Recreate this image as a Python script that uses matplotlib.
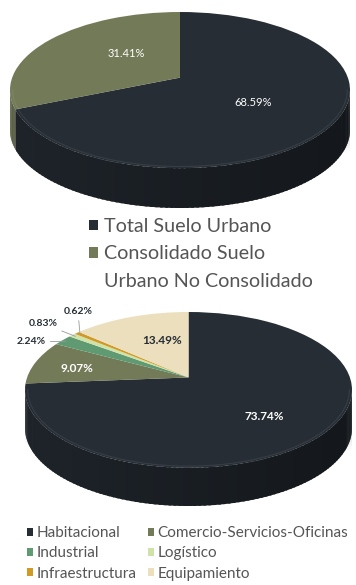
import numpy as np
import matplotlib
matplotlib.use("Agg")
import matplotlib.pyplot as plt
import matplotlib.transforms as mtransforms
from matplotlib.patches import Patch, Ellipse
from matplotlib.colors import to_rgb

# Datos
etiquetas1 = ["Total Suelo Urbano", "Consolidado Suelo\nUrbano No Consolidado"]
valores1 = [68.59, 31.41]
colores1 = ["#262d35", "#737a57"]

etiquetas2 = ["Habitacional", "Comercio-Servicios-Oficinas", "Industrial",
              "Logístico", "Infraestructura", "Equipamiento"]
valores2 = [73.74, 9.07, 2.24, 0.83, 0.62, 13.49]
colores2 = ["#262d35", "#737a57", "#5f9a72", "#cfe3a8", "#d19a26", "#ecdfbd"]

plt.rcParams["font.family"] = ["Lato", "DejaVu Sans"]

W, H = 356, 585
fig = plt.figure(figsize=(W / 100, H / 100), dpi=100)


class Perspectiva(mtransforms.Transform):
    # inclina el disco: la mitad del fondo se ve mas pequeña
    input_dims = output_dims = 2

    def __init__(self, p):
        super().__init__()
        self.p = p

    def transform_non_affine(self, v):
        v = np.asarray(v, float)
        x, y = v[:, 0], v[:, 1]
        den = 1 + self.p * y
        return np.column_stack([x * np.sqrt(1 - self.p ** 2) / den, (y + self.p) / den])


def px_axes(left, top, right, bottom):
    return fig.add_axes([left / W, 1 - bottom / H, (right - left) / W, (bottom - top) / H])


def pastel_3d(ax, valores, colores, d, p):
    P = Perspectiva(p)
    wedges = ax.pie(valores, colors=colores, startangle=90, counterclock=False, radius=1,
                    wedgeprops=dict(lw=0, zorder=3))[0]
    for w in wedges:
        w.set_transform(P + ax.transData)
    # sombra
    for k in range(7):
        ax.add_patch(Ellipse((0.03, -d + 0.05), 2.0 + 0.035 * k, 0.9 + 0.07 * k,
                             color="#000000", alpha=0.02, lw=0, zorder=0))
    # cara lateral visible
    a = np.degrees(np.arcsin(p))
    for w, c in zip(wedges, colores):
        base = np.array(to_rgb(c))
        for lo, hi in [(-540 + a, -360 - a), (-180 + a, -a), (180 + a, 360 - a)]:
            t0, t1 = max(w.theta1, lo), min(w.theta2, hi)
            if t1 <= t0:
                continue
            ts = np.linspace(t0, t1, max(2, int((t1 - t0) / 1.5) + 2))
            for s0, s1 in zip(ts[:-1], ts[1:]):
                tm = np.radians((s0 + s1) / 2)
                col = base * (0.8 - 0.3 * (np.cos(tm) + 1) / 2)
                tt = np.radians(np.linspace(s0, min(s1 + 0.8, t1), 4))
                top = P.transform(np.column_stack([np.cos(tt), np.sin(tt)]))
                bot = top - [0, d]
                poly = np.vstack([top, bot[::-1]])
                ax.fill(poly[:, 0], poly[:, 1], color=col, lw=0, zorder=1)
            # borde claro de la cara superior
            tt = np.radians(np.linspace(t0, t1, 30))
            e = P.transform(np.column_stack([0.985 * np.cos(tt), 0.985 * np.sin(tt)]))
            ax.plot(e[:, 0], e[:, 1], color="white", alpha=0.08, lw=0.8, zorder=4)
    ax.set_aspect("auto")
    ax.set_xlim(-1, 1)
    ax.set_ylim(-1 - d, 1)
    ax.axis("off")
    return wedges, P


# --- Gráfico 1 ---
ax1 = px_axes(10, 12, 350, 208)
w1, P1 = pastel_3d(ax1, valores1, colores1, 0.51, 0.16)
for w, v, (r, dx, dy) in zip(w1, valores1, [(0.5, 0.0, -0.04), (0.45, 0.04, 0.07)]):
    tm = np.radians((w.theta1 + w.theta2) / 2)
    x, y = P1.transform([[r * np.cos(tm), r * np.sin(tm)]])[0]
    ax1.text(x + dx, y + dy, f"{v:.2f}%", color="white", ha="center", va="center",
             fontsize=8, zorder=5)

filas1, handles1 = [], []
for w, lab in zip(w1, etiquetas1):
    for j, linea in enumerate(lab.split("\n")):
        filas1.append(linea)
        handles1.append(w if j == 0 else Patch(color="none"))
leg1 = fig.legend(handles1, filas1, loc="upper left", bbox_to_anchor=(89 / W, 1 - 218 / H),
                  frameon=False, fontsize=14.2, handlelength=0.45, handleheight=0.45,
                  handletextpad=0.3, labelspacing=0.52, borderpad=0, borderaxespad=0)
for t in leg1.get_texts():
    t.set_color("#555555")

# --- Gráfico 2 ---
ax2 = px_axes(25, 312, 352, 506)
w2, P2 = pastel_3d(ax2, valores2, colores2, 0.49, 0.16)

pos_int = {0: (0.6, "white", 0.0, -0.08), 1: (0.72, "white", 0.0, -0.02),
           5: (0.6, "#262d35", 0.06, -0.02)}
for i, (r, c, dx, dy) in pos_int.items():
    tm = np.radians((w2[i].theta1 + w2[i].theta2) / 2)
    x, y = P2.transform([[r * np.cos(tm), r * np.sin(tm)]])[0]
    ax2.text(x + dx, y + dy, f"{valores2[i]:.2f}%", color=c, ha="center", va="center",
             fontsize=8.5, fontweight="bold", zorder=5)

pos_ext = {2: (-0.87, 0.615, "right"), 3: (-0.80, 0.85, "right"), 4: (-0.676, 1.0, "center")}
for i, (x, y, ha) in pos_ext.items():
    tm = np.radians((w2[i].theta1 + w2[i].theta2) / 2)
    xy = P2.transform([[0.97 * np.cos(tm), 0.97 * np.sin(tm)]])[0]
    ax2.annotate(f"{valores2[i]:.2f}%", xy=xy, xytext=(x, y), ha=ha, va="center",
                 fontsize=7.5, fontweight="bold", color="#262d35", zorder=5,
                 annotation_clip=False,
                 arrowprops=dict(arrowstyle="-", color="#9a9a9a", lw=0.6, shrinkA=1, shrinkB=0))

orden = [0, 2, 4, 1, 3, 5]
leg2 = fig.legend([w2[i] for i in orden], [etiquetas2[i] for i in orden], ncol=2,
                  loc="upper left", bbox_to_anchor=(27 / W, 1 - 526 / H), frameon=False,
                  fontsize=11, handlelength=0.42, handleheight=0.42, handletextpad=0.2,
                  labelspacing=0.42, columnspacing=0.75, borderpad=0, borderaxespad=0)
for t in leg2.get_texts():
    t.set_color("#555555")

fig.savefig("out.png", dpi=100)
